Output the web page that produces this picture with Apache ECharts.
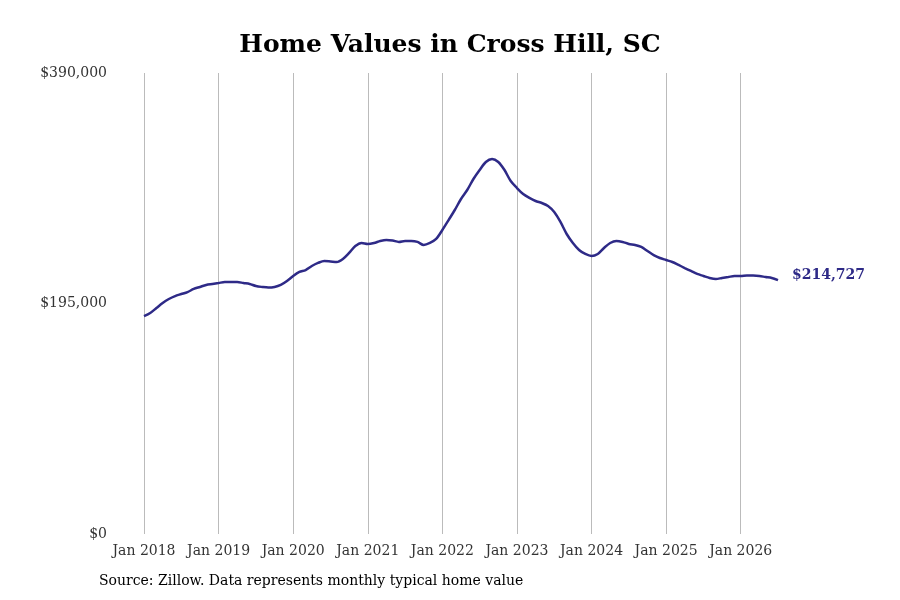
<!DOCTYPE html>
<html>
<head>
<meta charset="utf-8">
<script src="https://cdn.jsdelivr.net/npm/echarts@6/dist/echarts.min.js"></script>
<style>html,body{margin:0;padding:0;background:#fff}#chart{width:900px;height:600px}</style>
</head>
<body>
<div id="chart"></div>
<script>
var years = [2018, 2019, 2020, 2021, 2022, 2023, 2024, 2025, 2026];
var monthsIn2026 = 7;
var homeValues = [
    184400, 187000, 191200, 195400, 198800, 201300, 203000, 204700, 207300, 209000, 210700, 211500,
    212300, 213200, 213200, 213200, 212300, 211500, 209800, 209000, 208500, 209000, 210700, 214000,
    218300, 221700, 223300, 226700, 229300, 231000, 230600, 230100, 232700, 237800, 243600, 246200,
    245400, 246200, 247900, 248800, 248300, 247100, 247900, 247900, 247100, 244500, 246200, 249600,
    257200, 265600, 274100, 283400, 291000, 300300, 307900, 314700, 317300, 314700, 307900, 298600,
    292700, 287600, 284300, 281700, 280000, 277500, 272400, 264000, 253800, 246200, 240300, 236900,
    235200, 236900, 242000, 246200, 247900, 247100, 245400, 244500, 242800, 239400, 236000, 233500,
    231800, 230100, 227600, 225000, 222500, 220000, 218300, 216600, 215700, 216600, 217400, 218300,
    218300, 218700, 218700, 218300, 217400, 216600, 214727
];
var monthNames = ['Jan','Feb','Mar','Apr','May','Jun','Jul','Aug','Sep','Oct','Nov','Dec'];

var categories = [];
years.forEach(function (y) {
    var n = y === 2026 ? monthsIn2026 : 12;
    for (var m = 0; m < n; m++) categories.push(monthNames[m] + ' ' + y);
});
var isJan = function (i, v) { return categories[i].indexOf('Jan') === 0; };

var myChart = echarts.init(document.getElementById('chart'));
var font = '"DejaVu Serif", "Liberation Serif", serif';
var option = {
    textStyle: { fontFamily: font },
    title: {
        text: 'Home Values in Cross Hill, SC',
        left: 'center',
        top: 28,
        textStyle: { fontFamily: font, fontSize: 25, fontWeight: 'bold', color: '#000' }
    },
    grid: { left: 144, right: 122, top: 73, bottom: 66 },
    xAxis: {
        type: 'category',
        data: categories,
        boundaryGap: false,
        axisLine: { show: false },
        axisTick: { show: false },
        axisLabel: { interval: isJan, color: '#333', fontSize: 14, margin: 10, fontFamily: font },
        splitLine: { show: true, interval: isJan, lineStyle: { color: '#bbb', width: 1 } }
    },
    yAxis: {
        type: 'value',
        min: 0,
        max: 390000,
        interval: 195000,
        axisLine: { show: false },
        axisTick: { show: false },
        splitLine: { show: false },
        axisLabel: {
            color: '#333', fontSize: 14, margin: 37, fontFamily: font,
            formatter: function (v) { return '$' + v.toLocaleString('en-US'); }
        }
    },
    series: [{
        type: 'line',
        data: homeValues,
        showSymbol: false,
        smooth: 0.3,
        lineStyle: { color: '#2e2a87', width: 2.5 },
        itemStyle: { color: '#2e2a87' },
        endLabel: {
            show: true,
            distance: 14,
            offset: [0, -5],
            color: '#2e2a87',
            fontWeight: 'bold',
            fontSize: 14,
            fontFamily: font,
            formatter: function (p) { return '$' + p.value.toLocaleString('en-US'); }
        }
    }],
    graphic: [{
        type: 'text',
        left: 99,
        top: 574,
        style: { text: 'Source: Zillow. Data represents monthly typical home value', fill: '#000', font: '14px ' + font }
    }]
};
option && myChart.setOption(option);
</script>
</body>
</html>
